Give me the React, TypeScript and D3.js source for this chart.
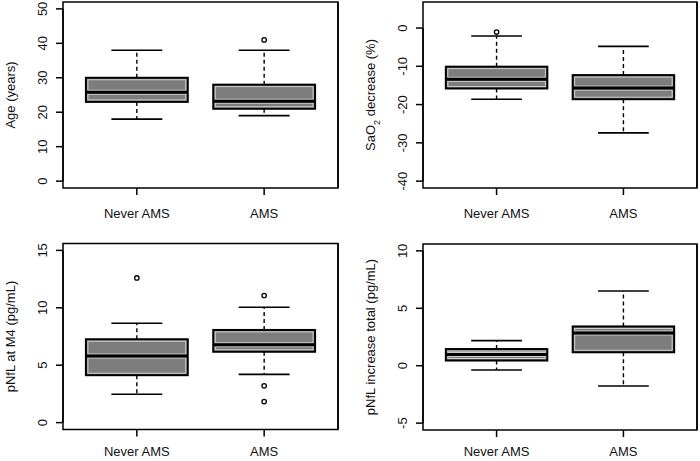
import React from "react";
import * as d3 from "d3";

const groups = ["Never AMS", "AMS"];

// five-number summaries: [lowerWhisker, Q1, median, Q3, upperWhisker]
const ageStats = [
  [18, 23, 25.8, 30, 38],
  [19, 21, 23.2, 28, 38],
];
const ageOutliers = [[], [41]];
const ageTicks = [0, 10, 20, 30, 40, 50];

const saoStats = [
  [-18.6, -15.8, -13.4, -10.1, -2.1],
  [-27.4, -18.6, -15.7, -12.3, -4.8],
];
const saoOutliers = [[-1.05], []];
const saoTicks = [-40, -30, -20, -10, 0];

const nflStats = [
  [2.47, 4.13, 5.8, 7.26, 8.65],
  [4.2, 6.17, 6.78, 8.07, 10.05],
];
const nflOutliers = [[12.6], [11.07, 3.2, 1.83]];
const nflTicks = [0, 5, 10, 15];

const incStats = [
  [-0.37, 0.45, 0.97, 1.45, 2.18],
  [-1.77, 1.17, 2.85, 3.42, 6.5],
];
const incOutliers = [[], []];
const incTicks = [-5, 0, 5, 10];

const FONT = "'Liberation Sans', Arial, Helvetica, sans-serif";
const FILL = "#7d7d7d";

type PanelDef = {
  left: number;
  top: number;
  width: number;
  height: number;
  labelOffset: number;
  domain: [number, number];
  ticks: number[];
  stats: number[][];
  outliers: number[][];
  title: React.ReactNode;
};

function Panel({ p }: { p: PanelDef }) {
  const [d0, d1] = p.domain;
  const ext = (d1 - d0) * 0.04;
  const y = d3
    .scaleLinear()
    .domain([d0 - ext, d1 + ext])
    .range([p.top + p.height, p.top]);
  const xext = 2 * 0.04;
  const x = d3
    .scaleLinear()
    .domain([0.5 - xext, 2.5 + xext])
    .range([p.left, p.left + p.width]);
  const unit = x(1) - x(0);
  const boxW = 0.8 * unit;
  const capW = boxW / 2;
  const bottom = p.top + p.height;
  const right = p.left + p.width;

  return (
    <g>
      {p.stats.map((s, i) => {
        const cx = x(i + 1);
        const [lo, q1, med, q3, hi] = s;
        const bx = cx - boxW / 2;
        const inset = 2;
        return (
          <g key={i}>
            <line x1={cx} x2={cx} y1={y(q3)} y2={y(hi)} stroke="#000" strokeWidth={1.4} strokeDasharray="4,3" />
            <line x1={cx} x2={cx} y1={y(q1)} y2={y(lo)} stroke="#000" strokeWidth={1.4} strokeDasharray="4,3" />
            <line x1={cx - capW / 2} x2={cx + capW / 2} y1={y(hi)} y2={y(hi)} stroke="#000" strokeWidth={1.6} />
            <line x1={cx - capW / 2} x2={cx + capW / 2} y1={y(lo)} y2={y(lo)} stroke="#000" strokeWidth={1.6} />
            <rect x={bx} y={y(q3)} width={boxW} height={y(q1) - y(q3)} fill={FILL} stroke="#000" strokeWidth={2} />
            {[
              [q3, med],
              [med, q1],
            ].map(([a, b], k) => {
              const h = y(b) - y(a) - 2 * inset;
              return h > 0 ? (
                <rect
                  key={k}
                  x={bx + inset}
                  y={y(a) + inset}
                  width={boxW - 2 * inset}
                  height={h}
                  fill="none"
                  stroke="#d8d8d8"
                  strokeWidth={0.9}
                />
              ) : null;
            })}
            <line x1={bx} x2={bx + boxW} y1={y(med)} y2={y(med)} stroke="#000" strokeWidth={3} />
            {p.outliers[i].map((o, j) => (
              <circle key={j} cx={cx} cy={y(o)} r={2.2} fill="#fff" stroke="#000" strokeWidth={1.3} />
            ))}
          </g>
        );
      })}
      <rect x={p.left} y={p.top} width={p.width} height={p.height} fill="none" stroke="#000" strokeWidth={1.5} />
      {/* y axis */}
      <line
        x1={p.left}
        x2={p.left}
        y1={y(p.ticks[0])}
        y2={y(p.ticks[p.ticks.length - 1])}
        stroke="#000"
        strokeWidth={1.5}
      />
      {p.ticks.map((t) => (
        <g key={t}>
          <line x1={p.left - 7} x2={p.left} y1={y(t)} y2={y(t)} stroke="#000" strokeWidth={1.5} />
          <text
            transform={`translate(${p.left - 21},${y(t)}) rotate(-90)`}
            textAnchor="middle"
            dy="0.35em"
            fontSize={13}
            fontFamily={FONT}
            fill="#111"
          >
            {t}
          </text>
        </g>
      ))}
      {/* x axis */}
      {groups.map((g, i) => (
        <g key={g}>
          <line x1={x(i + 1)} x2={x(i + 1)} y1={bottom} y2={bottom + 7} stroke="#000" strokeWidth={1.5} />
          <text
            x={x(i + 1)}
            y={bottom + p.labelOffset}
            dy="0.35em"
            textAnchor="middle"
            fontSize={13}
            fontFamily={FONT}
            fill="#111"
          >
            {g}
          </text>
        </g>
      ))}
      <text
        transform={`translate(${p.left - 53},${p.top + p.height / 2}) rotate(-90)`}
        textAnchor="middle"
        dy="0.35em"
        fontSize={13}
        fontFamily={FONT}
        fill="#111"
      >
        {p.title}
      </text>
      <line x1={right} x2={right} y1={p.top} y2={bottom} stroke="#000" strokeWidth={1.5} />
    </g>
  );
}

export default function App() {
  const panels: PanelDef[] = [
    {
      left: 63, top: 2, width: 275, height: 186, labelOffset: 25,
      domain: [0, 50], ticks: ageTicks, stats: ageStats, outliers: ageOutliers,
      title: "Age (years)",
    },
    {
      left: 423, top: 2, width: 274, height: 186, labelOffset: 25,
      domain: [-40, 5], ticks: saoTicks, stats: saoStats, outliers: saoOutliers,
      title: (
        <>
          SaO
          <tspan baselineShift="sub" fontSize={9}>2</tspan>
          <tspan> decrease (%)</tspan>
        </>
      ),
    },
    {
      left: 63, top: 243.5, width: 275, height: 186, labelOffset: 22,
      domain: [0, 15], ticks: nflTicks, stats: nflStats, outliers: nflOutliers,
      title: "pNfL at M4 (pg/mL)",
    },
    {
      left: 423, top: 244, width: 274, height: 186, labelOffset: 21.5,
      domain: [-5, 10], ticks: incTicks, stats: incStats, outliers: incOutliers,
      title: "pNfL increase total (pg/mL)",
    },
  ];
  return (
    <svg
      width={700}
      height={461}
      style={{ position: "absolute", left: 0, top: 0, background: "#fff" }}
    >
      <rect width={700} height={461} fill="#fff" />
      {panels.map((p, i) => (
        <Panel key={i} p={p} />
      ))}
    </svg>
  );
}
